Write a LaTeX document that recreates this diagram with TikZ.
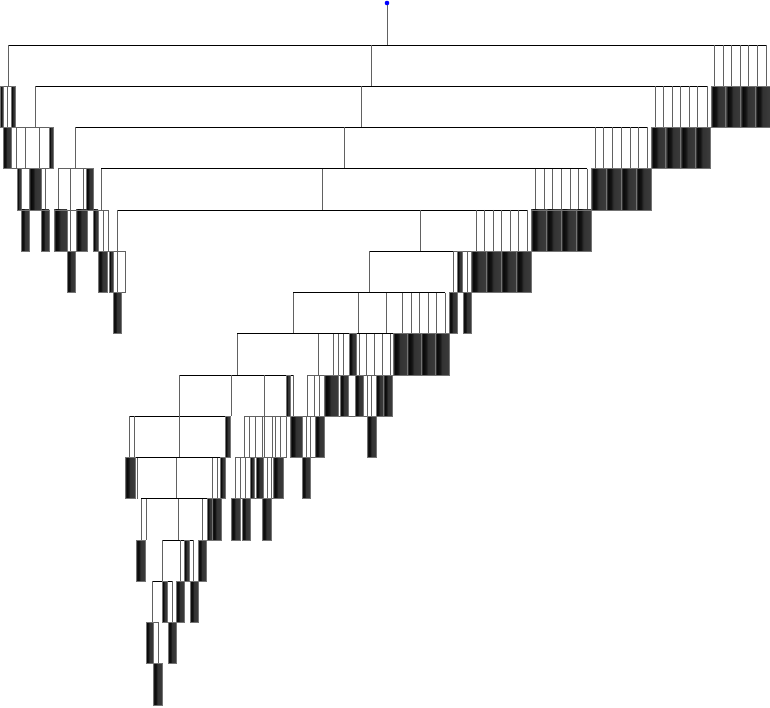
\documentclass[tikz,border=0pt]{standalone}
\pgfdeclarehorizontalshading{barshade}{100bp}{color(0bp)=(black!68); color(25bp)=(black!68); color(32bp)=(black!97); color(42bp)=(black!92); color(50bp)=(black!80); color(75bp)=(black!77); color(100bp)=(black!77)}
\tikzset{
  hln/.style={draw=black, line width=0.8pt},
  vln/.style={draw=black!62, line width=0.8pt},
  wbox/.style={draw=black!62, line width=0.8pt, fill=white},
  darkbar/.style={shading=barshade, draw=black!55, line width=0.6pt},
}
\newcommand{\myhl}[3]{\draw[hln] (#1,{45+41.25*#3}) -- (#2,{45+41.25*#3});}
\newcommand{\myvl}[2]{\draw[vln] (#1,{45+41.25*#2}) -- (#1,{45+41.25*(#2+1)});}
\newcommand{\mywb}[3]{\draw[wbox] (#1,{45+41.25*#3}) rectangle (#2,{45+41.25*(#3+1)});}
\newcommand{\mydk}[3]{\path[darkbar] (#1,{45+41.25*#3}) rectangle (#2,{45+41.25*(#3+1)});}
\begin{document}
\begin{tikzpicture}[x=1pt,y=-1pt]
\useasboundingbox (0,0) rectangle (770,708);
% ---- band A (0)
\draw[vln] (387,3) -- (387,45);
\myhl{8}{766}{0}
\foreach \x in {8,371,714,723,731,740,748,757,766} {\myvl{\x}{0}}
\fill[blue] (387,3) circle (2.3);
% ---- band B (1)
\mywb{3.5}{11}{1} \myvl{7.5}{1}
\myhl{35}{707}{1}
\foreach \x in {35,361,655,663,672,680,689,697,707} {\myvl{\x}{1}}
% ---- band C (2)
\mywb{11}{53}{2}
\foreach \x in {16,25,39} {\myvl{\x}{2}}
\myhl{75}{647}{2}
\foreach \x in {75,344,595,603,612,621,630,638,647} {\myvl{\x}{2}}
% ---- band D (3)
\mywb{17}{45}{3}
\mywb{58}{93}{3}
\foreach \x in {70,83} {\myvl{\x}{3}}
\myhl{101}{587}{3}
\foreach \x in {101,322,535,544,552,561,570,578,587} {\myvl{\x}{3}}
% ---- band E (4)
\mywb{67}{76}{4} \myvl{70.5}{4}
\mywb{98}{108}{4} \myvl{103}{4}
\myhl{117}{527}{4}
\foreach \x in {117,420,476,484,493,501,510,518,527} {\myvl{\x}{4}}
% ---- band F (5)
\mywb{109}{125}{5} \myvl{117}{5}
\myhl{369}{471}{5}
\myvl{369}{5}
\mywb{453}{471}{5} \myvl{467}{5}
% ---- band G (6)
\myhl{293}{445}{6}
\foreach \x in {293,358,386,402,411,419,428,436,445} {\myvl{\x}{6}}
% ---- band H (7)
\myhl{237}{393}{7}
\foreach \x in {237,318,333,338,343,359,366,374,382,390} {\myvl{\x}{7}}
% ---- band I (8)
\myhl{179}{293}{8}
\foreach \x in {179,231,264,293} {\myvl{\x}{8}}
\mywb{307}{392}{8}
\foreach \x in {314,319,367,371} {\myvl{\x}{8}}
% ---- band J (9)
\myhl{129}{230}{9}
\foreach \x in {129,134,179} {\myvl{\x}{9}}
\mywb{244}{286}{9}
\foreach \x in {249,255,262,264,272,275,280} {\myvl{\x}{9}}
\mywb{290}{324}{9}
\foreach \x in {306,310} {\myvl{\x}{9}}
% ---- band K (10)
\myhl{135}{225}{10}
\foreach \x in {137,176,212,217} {\myvl{\x}{10}}
\mywb{235}{283}{10}
\foreach \x in {240,245,267,271} {\myvl{\x}{10}}
% ---- band L (11)
\myhl{141}{221}{11}
\foreach \x in {141,146,178,202,207} {\myvl{\x}{11}}
% ---- band M (12)
\myhl{162}{193}{12}
\foreach \x in {162,180,193} {\myvl{\x}{12}}
% ---- band N (13)
\myhl{152}{172}{13}
\foreach \x in {152,172} {\myvl{\x}{13}}
% ---- band O (14)
\mywb{153}{158}{14}
% ================= dark bars
% B
\mydk{0}{3.5}{1} \mydk{11}{15.5}{1}
\foreach \i in {0,1,2,3} {\mydk{711+14.75*\i}{725.75+14.75*\i}{1}}
% C
\mydk{3}{11}{2} \mydk{49}{53}{2}
\foreach \i in {0,1,2,3} {\mydk{651+14.75*\i}{665.75+14.75*\i}{2}}
% D
\mydk{17}{21}{3} \mydk{29}{41}{3} \mydk{86}{93}{3}
\foreach \i in {0,1,2,3} {\mydk{591+15*\i}{606+15*\i}{3}}
% E
\mydk{21}{29}{4} \mydk{41}{49}{4} \mydk{54}{67}{4} \mydk{76}{87}{4} \mydk{93}{98}{4}
\foreach \i in {0,1,2,3} {\mydk{531+15*\i}{546+15*\i}{4}}
% F
\mydk{67}{75}{5} \mydk{98}{107}{5} \mydk{109}{113}{5} \mydk{457}{462}{5}
\foreach \i in {0,1,2,3} {\mydk{471+15*\i}{486+15*\i}{5}}
% G
\mydk{113}{121}{6} \mydk{449}{457}{6} \mydk{463}{471}{6}
% H
\mydk{349}{356}{7}
\foreach \i in {0,1,2,3} {\mydk{393+14*\i}{407+14*\i}{7}}
% I
\mydk{286}{290}{8} \mydk{324}{338}{8} \mydk{340}{348}{8} \mydk{355}{363}{8}
\mydk{376}{383.5}{8} \mydk{383.5}{392}{8}
% J
\mydk{225}{230}{9} \mydk{290}{302}{9} \mydk{315}{324}{9} \mydk{367}{376}{9}
% K
\mydk{125}{135}{10} \mydk{220}{225}{10} \mydk{250}{254.5}{10} \mydk{256}{263}{10}
\mydk{273}{283}{10} \mydk{302}{310}{10}
% L
\mydk{207}{212}{11} \mydk{212}{221}{11} \mydk{231}{240}{11} \mydk{242}{250}{11} \mydk{262}{271}{11}
% M
\mydk{136}{145}{12} \mydk{184}{189}{12} \mydk{198}{206}{12}
% N
\mydk{162}{167}{13} \mydk{176}{184}{13} \mydk{190}{198}{13}
% O
\mydk{146}{153}{14} \mydk{168}{176}{14}
% P
\mydk{153}{162}{15}
\end{tikzpicture}
\end{document}
